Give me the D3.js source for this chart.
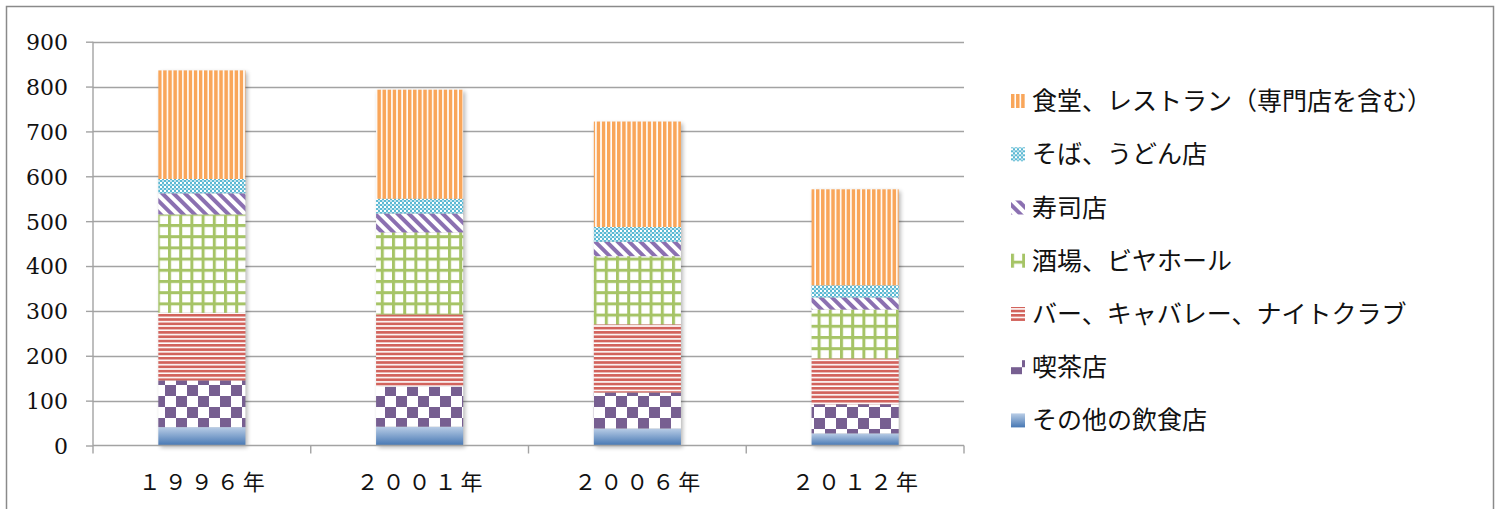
<!DOCTYPE html>
<html>
<head>
<meta charset="utf-8">
<script src="https://cdn.jsdelivr.net/npm/d3@7"></script>
<style>
  html, body { margin: 0; padding: 0; background: #fff; }
  svg { display: block; }
</style>
</head>
<body>
<script>
// Survey years and establishment counts per category (stacked bottom → top)
const years = ["１９９６年", "２００１年", "２００６年", "２０１２年"];
const yTicks = [0, 100, 200, 300, 400, 500, 600, 700, 800, 900];

const seriesNames = [
  "その他の飲食店",
  "喫茶店",
  "バー、キャバレー、ナイトクラブ",
  "酒場、ビヤホール",
  "寿司店",
  "そば、うどん店",
  "食堂、レストラン（専門店を含む）"
];
const otherShops  = [41, 42, 38, 27];
const coffeeShops = [104, 89, 80, 65];
const barsClubs   = [151, 161, 152, 102];
const pubsBeer    = [219, 183, 152, 109];
const sushiShops  = [47, 42, 32, 27];
const sobaUdon    = [32, 33, 33, 27];
const restaurants = [242, 243, 235, 214];
const seriesValues = [otherShops, coffeeShops, barsClubs, pubsBeer, sushiShops, sobaUdon, restaurants];
const patternIds = ["pGrad", "pChecker", "pHStripe", "pGrid", "pDiag", "pFineCheck", "pVStripe"];

const W = 1501, H = 509;
const svg = d3.select("body").append("svg").attr("width", W).attr("height", H);
const defs = svg.append("defs");

// ---- fill patterns ----
// blue gradient
const grad = defs.append("linearGradient").attr("id", "pGrad")
  .attr("x1", 0).attr("y1", 0).attr("x2", 0).attr("y2", 1);
grad.append("stop").attr("offset", "0%").attr("stop-color", "#b9cde6");
grad.append("stop").attr("offset", "100%").attr("stop-color", "#4677b3");

// large purple checkerboard
{
  const p = defs.append("pattern").attr("id", "pChecker").attr("patternUnits", "userSpaceOnUse")
    .attr("width", 22).attr("height", 22);
  p.append("rect").attr("width", 22).attr("height", 22).attr("fill", "#fff");
  p.append("rect").attr("width", 11).attr("height", 11).attr("fill", "#775f91");
  p.append("rect").attr("x", 11).attr("y", 11).attr("width", 11).attr("height", 11).attr("fill", "#775f91");
}
// red horizontal stripes
{
  const p = defs.append("pattern").attr("id", "pHStripe").attr("patternUnits", "userSpaceOnUse")
    .attr("width", 8).attr("height", 4.3);
  p.append("rect").attr("width", 8).attr("height", 4.3).attr("fill", "#fff");
  p.append("rect").attr("width", 8).attr("height", 2.7).attr("fill", "#d2635c");
}
// green grid
{
  const p = defs.append("pattern").attr("id", "pGrid").attr("patternUnits", "userSpaceOnUse")
    .attr("width", 11.2).attr("height", 11.2);
  p.append("rect").attr("width", 11.2).attr("height", 11.2).attr("fill", "#fff");
  p.append("rect").attr("width", 3).attr("height", 11.2).attr("fill", "#a6c466");
  p.append("rect").attr("width", 11.2).attr("height", 3).attr("fill", "#a6c466");
}
// purple wide diagonal stripes
{
  const p = defs.append("pattern").attr("id", "pDiag").attr("patternUnits", "userSpaceOnUse")
    .attr("width", 8).attr("height", 8).attr("patternTransform", "rotate(-45)");
  p.append("rect").attr("width", 8).attr("height", 8).attr("fill", "#fff");
  p.append("rect").attr("width", 4).attr("height", 8).attr("fill", "#8b70b1");
}
// cyan fine checkerboard
{
  const p = defs.append("pattern").attr("id", "pFineCheck").attr("patternUnits", "userSpaceOnUse")
    .attr("width", 4).attr("height", 4);
  p.append("rect").attr("width", 4).attr("height", 4).attr("fill", "#ffffff");
  p.append("rect").attr("width", 2).attr("height", 2).attr("fill", "#5cb9d3");
  p.append("rect").attr("x", 2).attr("y", 2).attr("width", 2).attr("height", 2).attr("fill", "#5cb9d3");
  p.append("rect").attr("x", 2).attr("width", 2).attr("height", 2).attr("fill", "#bfe3ee");
}
// orange vertical stripes
{
  const p = defs.append("pattern").attr("id", "pVStripe").attr("patternUnits", "userSpaceOnUse")
    .attr("width", 5.1).attr("height", 8);
  p.append("rect").attr("width", 5.1).attr("height", 8).attr("fill", "#fff");
  p.append("rect").attr("width", 3.5).attr("height", 8).attr("fill", "#f9a65a");
}
// soft shadow behind columns
const shadow = defs.append("filter").attr("id", "shadow")
  .attr("x", "-20%").attr("y", "-20%").attr("width", "140%").attr("height", "140%");
shadow.append("feGaussianBlur").attr("stdDeviation", 2.2);

// ---- frame ----
svg.append("rect").attr("x", 6.5).attr("y", 6.5).attr("width", 1487).attr("height", 520)
  .attr("fill", "none").attr("stroke", "#8a8a8a").attr("stroke-width", 1.5);

// ---- scales ----
const x = d3.scaleBand().domain(years).range([93, 964]).padding(0);
const y = d3.scaleLinear().domain([0, 900]).range([445.5, 41.7]);
const barW = x.bandwidth() * 0.4;
const barX = d => x(d) + (x.bandwidth() - barW) / 2;

// gridlines
svg.append("g").selectAll("line").data(yTicks.filter(t => t > 0)).join("line")
  .attr("x1", 93).attr("x2", 964)
  .attr("y1", d => Math.round(y(d)) + 0.5).attr("y2", d => Math.round(y(d)) + 0.5)
  .attr("stroke", "#a3a3a3").attr("stroke-width", 1.4);

// stacked data
const table = years.map((yr, i) => {
  const row = { year: yr };
  seriesNames.forEach((s, k) => row[s] = seriesValues[k][i]);
  return row;
});
const stacked = d3.stack().keys(seriesNames)(table);

// column shadows
svg.append("g").selectAll("rect").data(table).join("rect")
  .attr("x", d => barX(d.year) + 2)
  .attr("y", d => y(d3.sum(seriesNames, s => d[s])) + 2)
  .attr("width", barW)
  .attr("height", d => y(0) - y(d3.sum(seriesNames, s => d[s])))
  .attr("fill", "#000").attr("opacity", 0.28)
  .attr("filter", "url(#shadow)");

// columns
svg.append("g").selectAll("g").data(stacked).join("g")
  .attr("fill", (d, i) => `url(#${patternIds[i]})`)
  .selectAll("rect").data(d => d).join("rect")
  .attr("x", d => barX(d.data.year))
  .attr("y", d => y(d[1]))
  .attr("width", barW)
  .attr("height", d => y(d[0]) - y(d[1]));

// y axis
const yAxis = svg.append("g").attr("transform", "translate(93,0)")
  .call(d3.axisLeft(y).tickValues(yTicks).tickSize(7).tickPadding(18));
yAxis.select(".domain").attr("stroke", "#a3a3a3").attr("stroke-width", 1.4)
  .attr("d", `M0,${y(900)}V${y(0)}`);
yAxis.selectAll(".tick line").attr("stroke", "#a3a3a3").attr("stroke-width", 1.4);
yAxis.selectAll(".tick text")
  .attr("font-family", "'DejaVu Serif', serif").attr("font-size", 22).attr("fill", "#111")
  .attr("dy", "0.36em");

// x axis line with boundary ticks
svg.append("line").attr("x1", 93).attr("x2", 964).attr("y1", y(0)).attr("y2", y(0))
  .attr("stroke", "#a3a3a3").attr("stroke-width", 1.4);
const bounds = years.map(d => x(d)).concat([x.range()[1]]);
svg.append("g").selectAll("line").data(bounds).join("line")
  .attr("x1", d => d).attr("x2", d => d).attr("y1", y(0)).attr("y2", y(0) + 8)
  .attr("stroke", "#a3a3a3").attr("stroke-width", 1.4);
svg.append("g").selectAll("text").data(years).join("text")
  .attr("x", d => x(d) + x.bandwidth() / 2 + 2)
  .attr("y", 490)
  .attr("text-anchor", "middle")
  .attr("font-family", "'Noto Sans CJK JP', sans-serif")
  .attr("font-size", 22).attr("letter-spacing", 4).attr("fill", "#111")
  .text(d => d);

// legend (top entry is the top of the stack)
const legendY = [101, 154.3, 207.5, 260.7, 314, 367.2, 420.4];
const legendOrder = d3.range(seriesNames.length).reverse();
const leg = svg.append("g").selectAll("g").data(legendOrder).join("g")
  .attr("transform", (k, i) => `translate(1011,${legendY[i]})`);
leg.append("rect").attr("x", 0).attr("y", -7).attr("width", 14).attr("height", 14)
  .attr("fill", k => `url(#${patternIds[k]})`);
leg.append("text").attr("x", 21).attr("y", 0).attr("dy", "0.36em")
  .attr("font-family", "'Noto Sans CJK JP', sans-serif")
  .attr("font-size", 25).attr("fill", "#111")
  .text(k => seriesNames[k]);
</script>
</body>
</html>
